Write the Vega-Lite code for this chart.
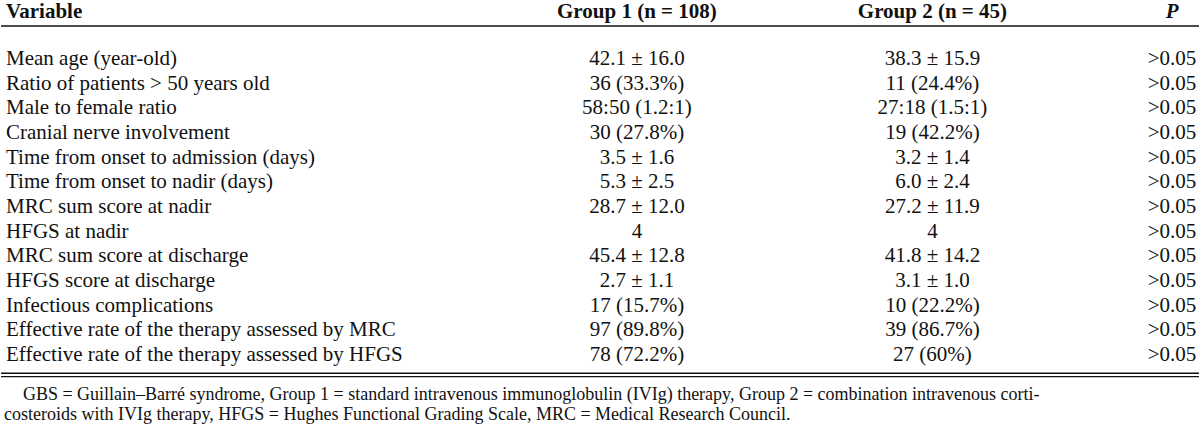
{
  "$schema": "https://vega.github.io/schema/vega-lite/v6.json",
  "width": 1200,
  "height": 437,
  "autosize": {"type": "fit", "contains": "padding"},
  "padding": 0,
  "background": "white",
  "config": {"view": {"stroke": null}, "text": {"font": "Liberation Serif", "fontSize": 21, "color": "#111", "baseline": "middle"}},
  "datasets": {
    "rows": [
      {"row": 1, "variable": "Mean age (year-old)", "g1": "42.1 ± 16.0", "g2": "38.3 ± 15.9", "p": ">0.05"},
      {"row": 2, "variable": "Ratio of patients > 50 years old", "g1": "36 (33.3%)", "g2": "11 (24.4%)", "p": ">0.05"},
      {"row": 3, "variable": "Male to female ratio", "g1": "58:50 (1.2:1)", "g2": "27:18 (1.5:1)", "p": ">0.05"},
      {"row": 4, "variable": "Cranial nerve involvement", "g1": "30 (27.8%)", "g2": "19 (42.2%)", "p": ">0.05"},
      {"row": 5, "variable": "Time from onset to admission (days)", "g1": "3.5 ± 1.6", "g2": "3.2 ± 1.4", "p": ">0.05"},
      {"row": 6, "variable": "Time from onset to nadir (days)", "g1": "5.3 ± 2.5", "g2": "6.0 ± 2.4", "p": ">0.05"},
      {"row": 7, "variable": "MRC sum score at nadir", "g1": "28.7 ± 12.0", "g2": "27.2 ± 11.9", "p": ">0.05"},
      {"row": 8, "variable": "HFGS at nadir", "g1": "4", "g2": "4", "p": ">0.05"},
      {"row": 9, "variable": "MRC sum score at discharge", "g1": "45.4 ± 12.8", "g2": "41.8 ± 14.2", "p": ">0.05"},
      {"row": 10, "variable": "HFGS score at discharge", "g1": "2.7 ± 1.1", "g2": "3.1 ± 1.0", "p": ">0.05"},
      {"row": 11, "variable": "Infectious complications", "g1": "17 (15.7%)", "g2": "10 (22.2%)", "p": ">0.05"},
      {"row": 12, "variable": "Effective rate of the therapy assessed by MRC", "g1": "97 (89.8%)", "g2": "39 (86.7%)", "p": ">0.05"},
      {"row": 13, "variable": "Effective rate of the therapy assessed by HFGS", "g1": "78 (72.2%)", "g2": "27 (60%)", "p": ">0.05"}
    ],
    "header": [
      {"row": -0.9, "variable": "Variable", "g1": "Group 1 (n = 108)", "g2": "Group 2 (n = 45)", "p": "P"}
    ],
    "rules": [
      {"rule": "header", "row": -0.333, "w": 1.5},
      {"rule": "bottom1", "row": 13.73, "w": 1.5},
      {"rule": "bottom2", "row": 13.87, "w": 1.2}
    ],
    "notes": [
      {"row": 14.62, "indent": 1.83, "text": "GBS = Guillain–Barré syndrome, Group 1 = standard intravenous immunoglobulin (IVIg) therapy, Group 2 = combination intravenous corti-"},
      {"row": 15.42, "indent": 0.25, "text": "costeroids with IVIg therapy, HFGS = Hughes Functional Grading Scale, MRC = Medical Research Council."}
    ]
  },
  "layer": [
    {
      "data": {"name": "rows"},
      "mark": {"type": "text", "align": "left"},
      "encoding": {
        "x": {"datum": 0.42, "type": "quantitative", "scale": {"domain": [0, 100], "nice": false, "zero": false}, "axis": null},
        "y": {"field": "row", "type": "quantitative", "scale": {"domain": [-1.343, 16.313], "reverse": true, "nice": false, "zero": false}, "axis": null},
        "text": {"field": "variable"}
      }
    },
    {
      "data": {"name": "rows"},
      "mark": {"type": "text", "align": "center"},
      "encoding": {
        "x": {"datum": 53.08, "type": "quantitative"},
        "y": {"field": "row", "type": "quantitative"},
        "text": {"field": "g1"}
      }
    },
    {
      "data": {"name": "rows"},
      "mark": {"type": "text", "align": "center"},
      "encoding": {
        "x": {"datum": 77.75, "type": "quantitative"},
        "y": {"field": "row", "type": "quantitative"},
        "text": {"field": "g2"}
      }
    },
    {
      "data": {"name": "rows"},
      "mark": {"type": "text", "align": "center"},
      "encoding": {
        "x": {"datum": 97.75, "type": "quantitative"},
        "y": {"field": "row", "type": "quantitative"},
        "text": {"field": "p"}
      }
    },
    {
      "data": {"name": "header"},
      "mark": {"type": "text", "align": "left", "fontWeight": "bold"},
      "encoding": {
        "x": {"datum": 0.42, "type": "quantitative"},
        "y": {"field": "row", "type": "quantitative"},
        "text": {"field": "variable"}
      }
    },
    {
      "data": {"name": "header"},
      "mark": {"type": "text", "align": "center", "fontWeight": "bold"},
      "encoding": {
        "x": {"datum": 53.08, "type": "quantitative"},
        "y": {"field": "row", "type": "quantitative"},
        "text": {"field": "g1"}
      }
    },
    {
      "data": {"name": "header"},
      "mark": {"type": "text", "align": "center", "fontWeight": "bold"},
      "encoding": {
        "x": {"datum": 77.75, "type": "quantitative"},
        "y": {"field": "row", "type": "quantitative"},
        "text": {"field": "g2"}
      }
    },
    {
      "data": {"name": "header"},
      "mark": {"type": "text", "align": "center", "fontWeight": "bold", "fontStyle": "italic"},
      "encoding": {
        "x": {"datum": 97.75, "type": "quantitative"},
        "y": {"field": "row", "type": "quantitative"},
        "text": {"field": "p"}
      }
    },
    {
      "data": {"name": "rules"},
      "mark": {"type": "rule", "color": "#111"},
      "encoding": {
        "x": {"datum": 0, "type": "quantitative"},
        "x2": {"datum": 100},
        "y": {"field": "row", "type": "quantitative"},
        "strokeWidth": {"field": "w", "type": "quantitative", "scale": null, "legend": null}
      }
    },
    {
      "data": {"name": "notes"},
      "mark": {"type": "text", "align": "left", "fontSize": 18},
      "encoding": {
        "x": {"field": "indent", "type": "quantitative"},
        "y": {"field": "row", "type": "quantitative"},
        "text": {"field": "text"}
      }
    }
  ]
}
